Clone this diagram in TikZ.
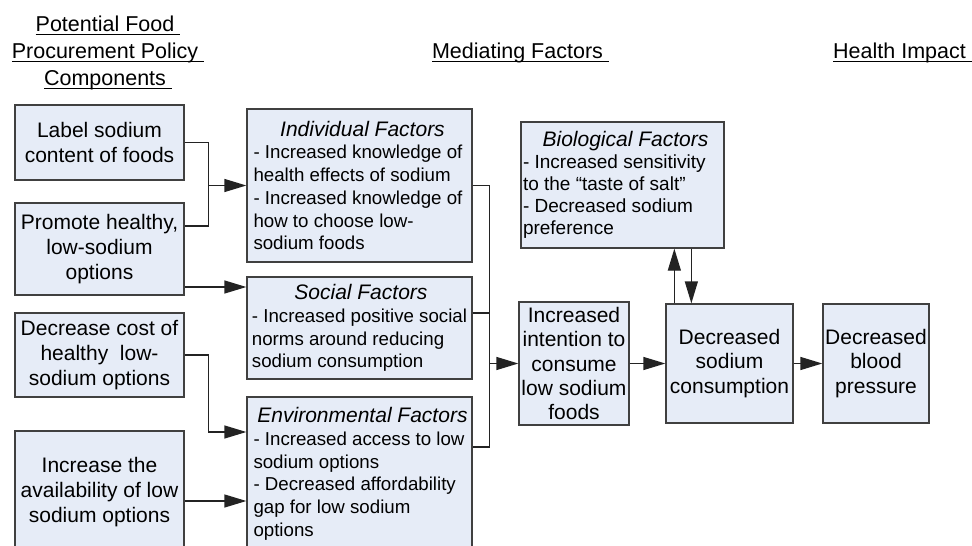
\documentclass[tikz,border=0pt]{standalone}
\usepackage{fontspec}
\setmainfont{Liberation Sans}
\usetikzlibrary{arrows.meta,calc}
\definecolor{boxfill}{RGB}{230,236,247}
\definecolor{boxline}{RGB}{64,64,64}
\definecolor{conn}{RGB}{35,35,35}
\newcommand\hdul[1]{\setbox0\hbox{#1}\rlap{\rule[-4pt]{\wd0}{1.2pt}}\box0}
\newcommand\mtitle[2]{\makebox[#1]{\hspace{6pt}\fontsize{21}{22.7}\selectfont\itshape #2}}
\tikzset{
  pbox/.style={draw=boxline, fill=boxfill, line width=1.3pt, align=center, inner sep=1pt,
    font=\fontsize{21}{25}\selectfont},
  mbox/.style={draw=boxline, fill=boxfill, line width=1.3pt, align=left, inner xsep=0pt, inner ysep=2pt,
    minimum width=225pt, font=\fontsize{18.7}{22.7}\selectfont},
  arr/.style={draw=conn, line width=1.3pt, -{Triangle[length=22pt,width=13pt]}},
  ln/.style={draw=conn, line width=1.3pt},
  hdr/.style={font=\fontsize{21.5}{27}\selectfont, anchor=base, inner sep=0pt}
}
\begin{document}
\begin{tikzpicture}[x=1pt,y=-1pt]
\useasboundingbox (0,0) rectangle (972,546);
\clip (0,0) rectangle (972,546);
% headers
\node[hdr] (hL1) at (108,31) {\hdul{Potential Food\ }};
\node[hdr] (hL2) at (108,58) {\hdul{Procurement Policy\ }};
\node[hdr] (hL3) at (108,85) {\hdul{Components\ }};
\node[hdr] (hM) at (520.5,58) {\hdul{Mediating Factors\ }};
\node[hdr] (hH) at (902.5,58) {\hdul{Health Impact\ }};
% policy components
\node[pbox, minimum width=169pt, minimum height=75pt] (Label) at (99.5,142.5) {Label sodium\\content of foods};
\node[pbox, minimum width=169pt, minimum height=92pt] (Promote) at (99.5,249) {Promote healthy,\\low-sodium\\options};
\node[pbox, minimum width=169pt, minimum height=84pt] (Cost) at (99.5,355) {Decrease cost of\\healthy\ \ low-\\sodium options};
\node[pbox, minimum width=169pt, minimum height=122pt] (Avail) at (99.5,492) {Increase the\\availability of low\\sodium options};
% mediating factors
\node[mbox, minimum height=153pt] (Individual) at (359.5,185.5)
  {\mtitle{212pt}{Individual Factors}\\- Increased knowledge of\\health effects of sodium\\- Increased knowledge of\\how to choose low-\\sodium foods};
\node[mbox, minimum height=102pt] (Social) at (359.5,328)
  {\mtitle{212pt}{Social Factors}\\- Increased positive social\\norms around reducing\\sodium consumption};
\node[mbox, minimum height=153.5pt] (Env) at (359.5,473.75)
  {\mtitle{212pt}{Environmental Factors}\\- Increased access to low\\sodium options\\- Decreased affordability\\gap for low sodium\\options};
\node[mbox, minimum width=203pt, minimum height=126pt, font=\fontsize{19}{22}\selectfont] (Bio) at (622.5,185)
  {\mtitle{199pt}{Biological Factors}\\- Increased sensitivity\\to the “taste of salt”\\- Decreased sodium\\preference};
\node[pbox, minimum width=110pt, minimum height=123pt, font=\fontsize{21}{24.4}\selectfont] (Intention) at (574,363.5)
  {Increased\\intention to\\consume\\low sodium\\foods};
\node[pbox, minimum width=127pt, minimum height=119pt, font=\fontsize{21}{24.5}\selectfont] (DS) at (729.5,363.5)
  {Decreased\\sodium\\consumption};
\node[pbox, minimum width=106pt, minimum height=119pt, font=\fontsize{21}{24.5}\selectfont] (BP) at (876,363.5)
  {Decreased\\blood\\pressure};
% connectors: left
\coordinate (bA) at ($(Label.east)+(24,0)$);
\draw[ln] (Label.east) -| (bA) |- ($(Promote.east)+(0,-23)$);
\draw[arr] (bA |- Individual.west) -- (Individual.west);
\coordinate (pS) at ($(Promote.east)+(0,38)$);
\draw[arr] (pS) -- (pS -| Social.west);
\coordinate (bB) at ($(Cost.east)+(24,0)$);
\coordinate (eA) at ($(Env.west)+(0,-41.75)$);
\draw[arr] (Cost.east) -| (bB |- eA) -- (eA);
\coordinate (aA) at ($(Avail.east)+(0,9)$);
\draw[arr] (aA) -- (aA -| Env.west);
% connectors: right bus
\coordinate (bC) at ($(Individual.east)+(17,0)$);
\coordinate (eB) at ($(Env.east)+(0,-26.75)$);
\draw[ln] (Individual.east) -| (bC |- eB) -- (eB);
\coordinate (sA) at ($(Social.east)+(0,-15)$);
\draw[ln] (sA) -- (sA -| bC);
\draw[arr] (bC |- Intention.west) -- (Intention.west);
\draw[arr] (Intention.east) -- (DS.west);
\draw[arr] (DS.east) -- (BP.west);
\coordinate (uA) at ($(DS.north west)+(9,0)$);
\draw[arr] (uA) -- (uA |- Bio.south);
\coordinate (dA) at ($(DS.north west)+(26,0)$);
\draw[arr] (dA |- Bio.south) -- (dA);
\end{tikzpicture}
\end{document}
